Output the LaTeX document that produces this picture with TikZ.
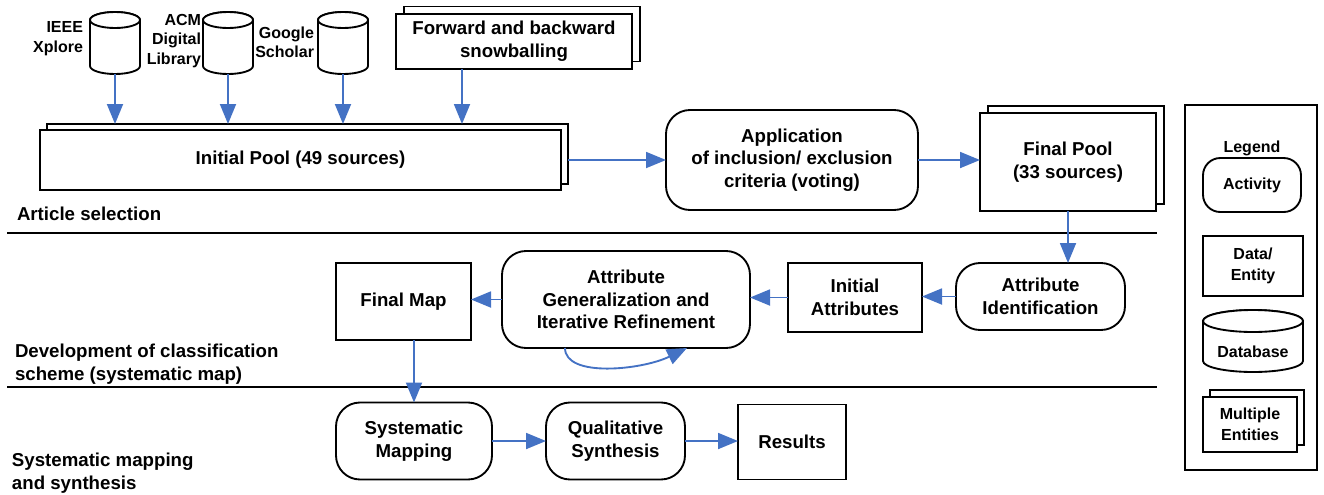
\documentclass[tikz,border=0pt]{standalone}
\usepackage{fontspec}
\setmainfont{Liberation Sans}
\usetikzlibrary{arrows.meta,backgrounds}
\definecolor{arrowblue}{HTML}{4472C4}
\newcommand{\drawcyl}[3]{%
  \draw[cylline] (#1.north west) -- (#1.south west)
     arc[start angle=180, end angle=360, x radius=#2, y radius=#3]
     -- (#1.north east)
     arc[start angle=0, end angle=180, x radius=#2, y radius=#3] -- cycle;
  \draw[cylline] (#1.north) ellipse[x radius=#2, y radius=#3];}
\begin{document}
\begin{tikzpicture}[x=0.75pt,y=-0.75pt,
  font=\bfseries\fontsize{14}{17}\selectfont,
  wh/.style 2 args={minimum width=#1*0.75pt, minimum height=#2*0.75pt},
  every node/.style={inner sep=0pt, outer sep=0pt, align=center},
  entity/.style={draw, fill=white, line width=1.4pt},
  activity/.style={entity, rounded corners=18pt},
  backcopy/.style={draw, fill=white, line width=1.4pt},
  cylline/.style={draw, fill=white, line width=1.4pt},
  arr/.style={draw=arrowblue, line width=1.4pt, -{Triangle[length=15pt,width=12pt]}},
  sep/.style={line width=1.1pt},
  lbl/.style={align=left, anchor=west},
  dblbl/.style={align=right, anchor=east, font=\bfseries\fontsize{12}{14.5}\selectfont},
  small/.style={font=\bfseries\fontsize{12}{15.5}\selectfont}]
\useasboundingbox (0,0) rectangle (1324,494);

% databases (node = body between ellipse centres)
\node[wh={50}{46}] (ieee) at (115,43) {};
\node[wh={50}{46}] (acm) at (228,43) {};
\node[wh={50}{46}] (gs) at (343,43) {};
\drawcyl{ieee}{18.75pt}{6pt}
\drawcyl{acm}{18.75pt}{6pt}
\drawcyl{gs}{18.75pt}{6pt}
\node[dblbl] (ieeel) at (83,38.5) {IEEE\\Xplore};
\node[dblbl] (acml) at (201,41) {ACM\\Digital\\Library};
\node[dblbl] (gsl) at (314,42.5) {Google\\Scholar};

% snowballing (multiple)
\node[backcopy, wh={236}{55}] (snowb) at (522,34) {};
\node[entity, wh={236}{55}] (snow) at (514,41.5) {Forward and backward\\snowballing};

% initial pool (multiple)
\node[backcopy, wh={521}{60}] (poolb) at (307.5,154) {};
\node[entity, wh={521}{60}] (pool) at (300.5,160) {Initial Pool (49 sources)};

% application
\node[activity, wh={252}{100}] (appl) at (792,160) {Application\\of inclusion/ exclusion\\criteria (voting)};

% final pool (multiple)
\node[backcopy, wh={176}{98}] (fpoolb) at (1076,155) {};
\node[entity, wh={176}{98}] (fpool) at (1068,162) {Final Pool\\(33 sources)};

% second row
\node[activity, wh={169}{67}] (aid) at (1040.5,296.5) {Attribute\\Identification};
\node[entity, wh={134}{69}] (iattr) at (855,297.5) {Initial\\Attributes};
\node[activity, wh={248}{97}] (agir) at (626,299.5) {Attribute\\Generalization and\\Iterative Refinement};
\node[entity, wh={135}{77}] (fmap) at (403.5,301.5) {Final Map};

% third row
\node[activity, wh={156}{77}] (smap) at (414,441) {Systematic\\Mapping};
\node[activity, wh={139}{77}] (qsyn) at (615.5,441) {Qualitative\\Synthesis};
\node[entity, wh={108}{75}] (res) at (792,442) {Results};

% section labels
\node[lbl] (s1) at (17,214) {Article selection};
\node[lbl] (s2) at (15,364) {Development of classification\\scheme (systematic map)};
\node[lbl] (s3) at (12,473) {Systematic mapping\\and synthesis};

% separators
\coordinate (l1a) at (7,233); \coordinate (l1b) at (1157,233);
\coordinate (l2a) at (7,387); \coordinate (l2b) at (1157,387);
\draw[sep] (l1a) -- (l1b);
\draw[sep] (l2a) -- (l2b);

% legend
\node[draw, line width=1.1pt, wh={132}{365}] (legend) at (1251,287.5) {};
\node[small] (legt) at (1252,148) {Legend};
\node[activity, small, rounded corners=13pt, wh={98}{54}] (lact) at (1252,185) {Activity};
\node[entity, small, wh={100}{60}] (ldata) at (1253,266) {Data/\\Entity};
\node[wh={100}{40}] (ldb) at (1253,341) {};
\drawcyl{ldb}{37.5pt}{8.25pt}
\node[small] (ldbt) at (1253,352) {Database};
\node[backcopy, wh={94}{55}] (lmultb) at (1257,417.5) {};
\node[entity, small, wh={94}{55}] (lmult) at (1250,424.5) {Multiple\\Entities};

% connectors
\draw[arr] ([yshift=-6pt]ieee.south) -- (ieee.south |- poolb.north);
\draw[arr] ([yshift=-6pt]acm.south) -- (acm.south |- poolb.north);
\draw[arr] ([yshift=-6pt]gs.south) -- (gs.south |- poolb.north);
\draw[arr] ([xshift=-39pt]snow.south) -- ([xshift=-39pt]snow.south |- poolb.north);
\draw[arr] (pool.east -| poolb.east) -- (appl.west);
\draw[arr] (appl.east) -- (appl.east -| fpool.west);
\draw[arr] (fpool.south) -- (fpool.south |- aid.north);
\draw[arr] (aid.west) -- (aid.west -| iattr.east);
\draw[arr] (iattr.west) -- (iattr.west -| agir.east);
\draw[arr] (agir.west) -- (agir.west -| fmap.east);
\coordinate (loopa) at ([xshift=-45.75pt]agir.south);
\coordinate (loopb) at ([xshift=45.75pt]agir.south);
\draw[arr] (loopa) .. controls +(0,30) and +(-45,22) .. (loopb);
\draw[arr] (fmap.south -| smap.north) -- (smap.north);
\draw[arr] (smap.east) -- (qsyn.west);
\draw[arr] (qsyn.east) -- (qsyn.east -| res.west);
\end{tikzpicture}
\end{document}
